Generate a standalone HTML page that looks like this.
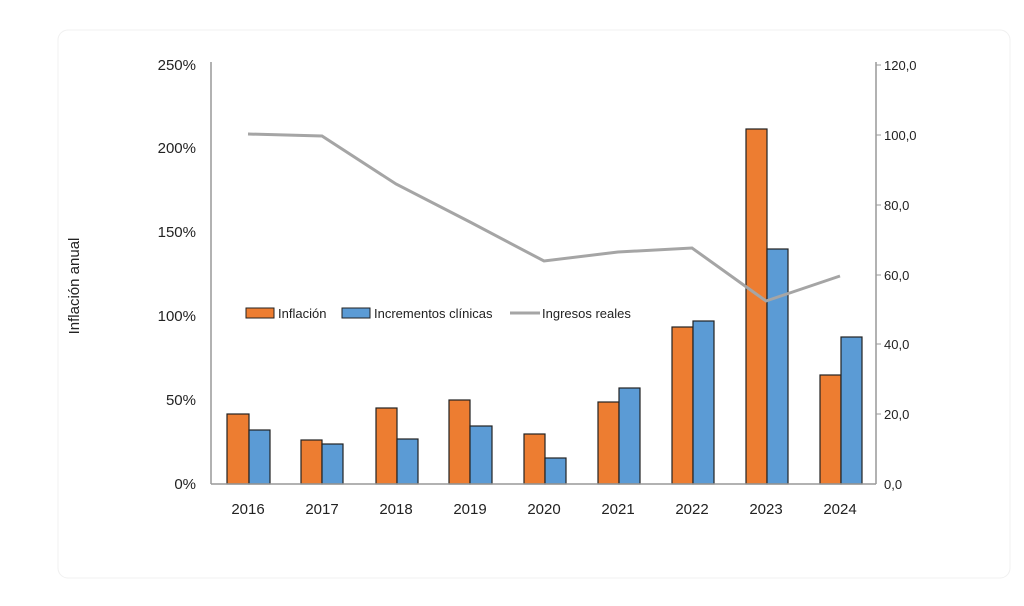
<!DOCTYPE html>
<html><head><meta charset="utf-8"><style>
body{margin:0;background:#fff;}
text{font-family:"Liberation Sans",sans-serif;fill:#222;}
</style></head><body>
<svg width="1024" height="601" viewBox="0 0 1024 601" xmlns="http://www.w3.org/2000/svg">
<rect x="58" y="30" width="952" height="548" rx="10" fill="none" stroke="#f0f0f0" stroke-width="1"/>
<g font-size="15" text-anchor="end">
<text x="196" y="489">0%</text><text x="196" y="405">50%</text><text x="196" y="321">100%</text>
<text x="196" y="237">150%</text><text x="196" y="153">200%</text><text x="196" y="70">250%</text>
</g>
<g font-size="13">
<text x="884" y="489">0,0</text><text x="884" y="419">20,0</text><text x="884" y="349">40,0</text>
<text x="884" y="280">60,0</text><text x="884" y="210">80,0</text><text x="884" y="140">100,0</text><text x="884" y="70">120,0</text>
</g>
<text transform="translate(79,286) rotate(-90)" font-size="15" text-anchor="middle">Inflación anual</text>
<line x1="211" y1="62" x2="211" y2="484" stroke="#999" stroke-width="1.5"/>
<line x1="876" y1="62" x2="876" y2="484" stroke="#999" stroke-width="1.5"/>
<g stroke="#999"><line x1="876" y1="65" x2="881" y2="65"/><line x1="876" y1="135" x2="881" y2="135"/><line x1="876" y1="205" x2="881" y2="205"/><line x1="876" y1="275" x2="881" y2="275"/><line x1="876" y1="344" x2="881" y2="344"/><line x1="876" y1="414" x2="881" y2="414"/></g>
<g stroke="#222" stroke-width="1.2">
<g fill="#ed7d31">
<rect x="227" y="414" width="22" height="70"/><rect x="301" y="440" width="21" height="44"/>
<rect x="376" y="408" width="21" height="76"/><rect x="449" y="400" width="21" height="84"/>
<rect x="524" y="434" width="21" height="50"/><rect x="598" y="402" width="21" height="82"/>
<rect x="672" y="327" width="21" height="157"/><rect x="746" y="129" width="21" height="355"/>
<rect x="820" y="375" width="21" height="109"/>
</g>
<g fill="#5b9bd5">
<rect x="249" y="430" width="21" height="54"/><rect x="322" y="444" width="21" height="40"/>
<rect x="397" y="439" width="21" height="45"/><rect x="470" y="426" width="22" height="58"/>
<rect x="545" y="458" width="21" height="26"/><rect x="619" y="388" width="21" height="96"/>
<rect x="693" y="321" width="21" height="163"/><rect x="767" y="249" width="21" height="235"/>
<rect x="841" y="337" width="21" height="147"/>
</g>
</g>
<line x1="211" y1="484" x2="876" y2="484" stroke="#999" stroke-width="1.5"/>
<polyline points="248,134 322,136 396,184 470,222 544,261 618,252 692,248 766,301 840,276" fill="none" stroke="#a5a5a5" stroke-width="3"/>
<g font-size="15" text-anchor="middle">
<text x="248" y="514">2016</text><text x="322" y="514">2017</text><text x="396" y="514">2018</text>
<text x="470" y="514">2019</text><text x="544" y="514">2020</text><text x="618" y="514">2021</text>
<text x="692" y="514">2022</text><text x="766" y="514">2023</text><text x="840" y="514">2024</text>
</g>
<rect x="246" y="308" width="28" height="10" fill="#ed7d31" stroke="#222"/>
<text x="278" y="318" font-size="13">Inflación</text>
<rect x="342" y="308" width="28" height="10" fill="#5b9bd5" stroke="#222"/>
<text x="374" y="318" font-size="13">Incrementos clínicas</text>
<line x1="510" y1="313" x2="540" y2="313" stroke="#a5a5a5" stroke-width="3"/>
<text x="542" y="318" font-size="13">Ingresos reales</text>
</svg>
</body></html>
